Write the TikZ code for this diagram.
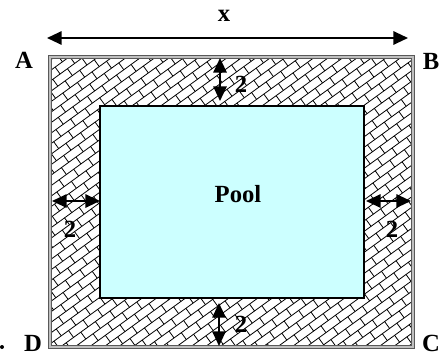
\documentclass[tikz,border=0pt]{standalone}
\usepackage{fontspec}
\setmainfont{Liberation Serif}
\usetikzlibrary{arrows.meta}
\definecolor{poolblue}{RGB}{204,255,255}

\tikzset{
  dim/.style={{Triangle[length=11pt,width=10pt]}-{Triangle[length=11pt,width=10pt]},line width=1.5pt},
  lbl/.style={font=\bfseries\fontsize{18.5}{20}\selectfont,inner sep=0pt},
}

\begin{document}
\begin{tikzpicture}[x=0.75pt,y=-0.75pt]
\useasboundingbox (0,0) rectangle (448,356);
% brick path round the pool
\begin{scope}[even odd rule]
\clip (50,57) rectangle (413,347) (100,106) rectangle (364,298);
\begin{scope}[shift={(231,202)},rotate=36,line width=0.6pt]
\foreach \r in {-29,...,29}{
  \draw (-260,\r*8.5) -- (260,\r*8.5);
  \foreach \c in {-15,...,15}
    \draw ({\c*18+9*mod(\r+100,2)},\r*8.5) -- ++(0,8.5);
}
\end{scope}
\end{scope}
\draw[draw=gray!70!black,double=gray!50,double distance=1.5pt,line width=0.5pt] (50,57) rectangle (413,347);
\draw[fill=poolblue,line width=1.5pt] (100,106) rectangle (364,298);
\node[lbl] (pool) at (238,194) {Pool};
% corners
\node[lbl] (A) at (24,60) {A};
\node[lbl] (B) at (431,61) {B};
\node[lbl] (C) at (431,343) {C};
\node[lbl] (D) at (33,343) {D};
\fill (2,347) circle (2);
% width x
\coordinate (xL) at (47,38);
\coordinate (xR) at (408,38);
\draw[dim] (xL) -- (xR);
\node[lbl] (xlab) at (224,16) {x};
% path widths
\coordinate (t1) at (220,58);
\coordinate (t2) at (220,101);
\draw[dim] (t1) -- (t2);
\node[lbl] (ttop) at (241,84) {2};
\coordinate (b1) at (219,303);
\coordinate (b2) at (219,346);
\draw[dim] (b1) -- (b2);
\node[lbl] (tbot) at (241,324) {2};
\coordinate (l1) at (52,201);
\coordinate (l2) at (100,201);
\draw[dim] (l1) -- (l2);
\node[lbl] (tleft) at (70,229) {2};
\coordinate (r1) at (366,201);
\coordinate (r2) at (411,201);
\draw[dim] (r1) -- (r2);
\node[lbl] (tright) at (392,229) {2};
\end{tikzpicture}
\end{document}
